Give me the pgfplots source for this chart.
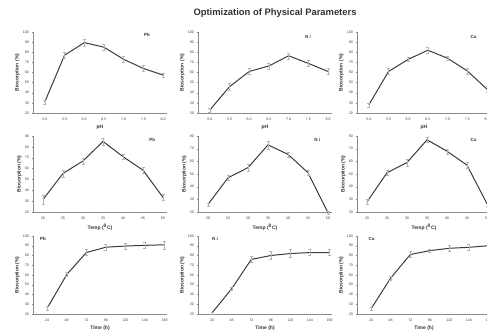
\documentclass[border=0pt]{standalone}
\usepackage{pgfplots}
\pgfplotsset{compat=1.18}
\usepackage{fontspec}
\setmainfont{Liberation Sans}
\definecolor{ln}{HTML}{3C3C3C}
\definecolor{eb}{HTML}{B4B4B4}
\definecolor{ax}{HTML}{8A8A8A}
\tikzset{plab/.style={font=\bfseries\fontsize{4.5}{5}\selectfont, text=black!80}}
\pgfplotsset{
  panel/.style={
    scale only axis, width=134pt,
    axis lines*=left,
    axis line style={ax, line width=0.4pt},
    tick style={ax, line width=0.3pt},
    major tick length=1.5pt,
    tick align=outside,
    tick label style={font=\fontsize{3.6}{4}\selectfont, text=black!75},
    /pgf/number format/assume math mode=true,
    label style={font=\bfseries\fontsize{5}{6}\selectfont, text=black!80},
    ylabel={Biosorption (\%)},
    ylabel style={yshift=-3.5pt},
    xlabel style={yshift=2pt},
    xticklabel style={yshift=0.5pt},
    yticklabel style={xshift=1pt},
    clip=false,
  },
  rowA/.style={panel, height=81pt, xmin=4.7, xmax=8.1, ymin=20, ymax=100, ytick={20,30,...,100},
    xtick={5,5.5,...,8}, xlabel={pH},
    xticklabel style={/pgf/number format/.cd, fixed, fixed zerofill, precision=1}},
  rowB/.style={panel, height=76pt, xmin=17.5, xmax=51, ymin=20, xtick={20,25,...,50},
    xlabel={Temp (\textsuperscript{0}C)}},
  rowC/.style={panel, height=78pt, xmin=6.6, xmax=171, ymin=20, ymax=100, ytick={20,30,...,100},
    xtick={24,48,...,168}, xlabel={Time (h)}},
  dat/.style={ln, line width=1pt, mark=none,
    error bars/.cd, y dir=both, y explicit,
    error bar style={eb, line width=0.3pt},
    error mark options={eb, rotate=90, mark size=1.5pt, line width=0.3pt}},
}
\begin{document}
\begin{tikzpicture}
\useasboundingbox (0pt,0pt) rectangle (487pt,331pt);
\node[font=\bfseries\fontsize{9.4}{11}\selectfont, text=black!80] at (275pt,318pt) {Optimization of Physical Parameters};

% Row 1 : pH
\begin{axis}[rowA, at={(33pt,218pt)}, anchor=south west]
\addplot+[dat] table[y error=e] {
x y e
5.0 31 2
5.5 77 3
6.0 89.5 3
6.5 85 3
7.0 73 3
7.5 64 3
8.0 57.5 2
};
\node[plab] at (rel axis cs:0.85,0.96) {Pb};
\end{axis}
\begin{axis}[rowA, at={(198pt,218pt)}, anchor=south west]
\addplot+[dat] table[y error=e] {
x y e
5.0 23 2
5.5 46 3
6.0 61 3
6.5 66.5 3
7.0 76.5 3
7.5 69 3
8.0 61 3
};
\node[plab] at (rel axis cs:0.82,0.94) {N i};
\end{axis}
\begin{axis}[rowA, at={(357pt,218pt)}, anchor=south west]
\addplot+[dat] table[y error=e] {
x y e
5.0 28 2
5.5 61 3
6.0 73 2
6.5 82 3
7.0 74 2
7.5 61.5 3
8.0 43.5 3
};
\node[plab] at (rel axis cs:0.87,0.94) {Cu};
\end{axis}

% Row 2 : Temperature
\begin{axis}[rowB, ymax=90, ytick={20,30,...,90}, at={(33pt,119pt)}, anchor=south west]
\addplot+[dat] table[y error=e] {
x y e
20 31.5 4
25 55.5 3
30 67 3
35 85 3
40 71 2
45 58.5 3
50 33.5 3
};
\node[plab] at (rel axis cs:0.89,0.95) {Pb};
\end{axis}
\begin{axis}[rowB, ymax=80, ytick={20,30,...,80}, at={(198pt,119pt)}, anchor=south west]
\addplot+[dat] table[y error=e] {
x y e
20 26 1
25 47 2
30 55 3
35 73 3
40 65.5 2
45 51 2
50 19.5 1
};
\node[plab] at (rel axis cs:0.89,0.95) {N i};
\end{axis}
\begin{axis}[rowB, ymax=80, ytick={20,30,...,80}, at={(357pt,119pt)}, anchor=south west]
\addplot+[dat] table[y error=e] {
x y e
20 28 2
25 51 2
30 59 3
35 77 2
40 68 2
45 57 2
50 26.5 2
};
\node[plab] at (rel axis cs:0.87,0.95) {Cu};
\end{axis}

% Row 3 : Time
\begin{axis}[rowC, at={(33pt,17pt)}, anchor=south west]
\addplot+[dat] table[y error=e] {
x y e
24 26 2
48 60.5 2
72 83 3
96 88.5 3
120 89.7 3
144 90.4 3
168 91 4
};
\node[plab] at (rel axis cs:0.075,0.96) {Pb};
\end{axis}
\begin{axis}[rowC, at={(198pt,17pt)}, anchor=south west]
\addplot+[dat] table[y error=e] {
x y e
24 21.3 1
48 46 2
72 76 3
96 80 4
120 82 4
144 83 3
168 83 3
};
\node[plab] at (rel axis cs:0.127,0.96) {N i};
\end{axis}
\begin{axis}[rowC, at={(357pt,17pt)}, anchor=south west]
\addplot+[dat] table[y error=e] {
x y e
24 25.5 2
48 57 2
72 81 3
96 85 2
120 87.4 3
144 88.4 3
168 90 3
};
\node[plab] at (rel axis cs:0.11,0.96) {Cu};
\end{axis}
\end{tikzpicture}
\end{document}
